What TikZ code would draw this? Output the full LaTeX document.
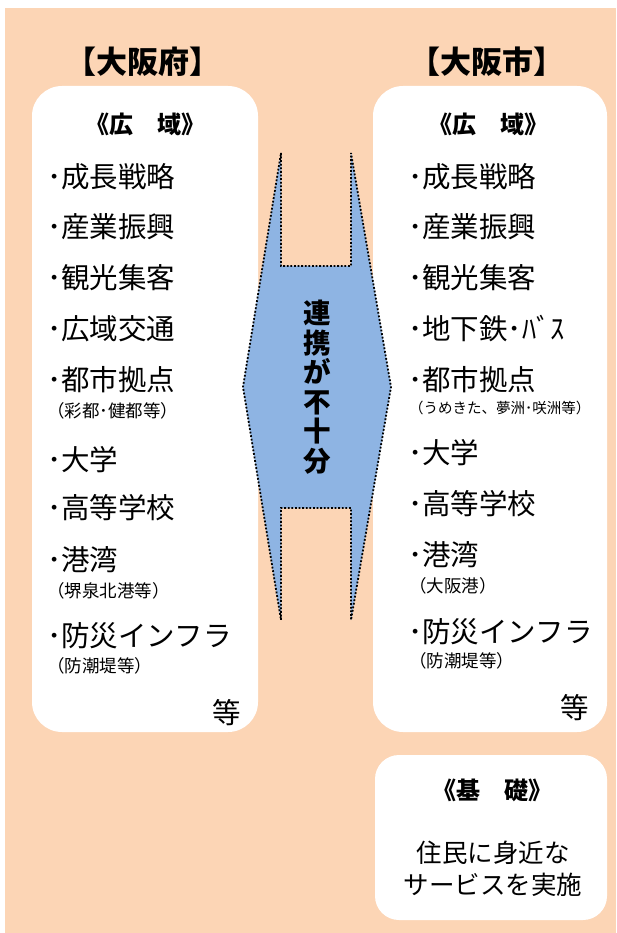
\documentclass[tikz,border=0pt]{standalone}
\usepackage{fontspec}
\setmainfont{Noto Sans CJK JP}
\usepackage{tikz}
\usetikzlibrary{positioning}
\definecolor{haikei}{HTML}{FCD5B5}
\definecolor{renkei}{HTML}{8EB4E3}
\tikzset{
	midashi/.style={font=\fontsize{31}{34}\selectfont\bfseries},
	kubun/.style={font=\fontsize{24}{26}\selectfont\bfseries},
	koumoku/.style={anchor=west, inner sep=0pt, font=\fontsize{28.5}{31}\selectfont},
	hosoku/.style={anchor=west, inner sep=0pt, font=\fontsize{17.5}{19}\selectfont},
	hosokusmall/.style={anchor=west, inner sep=0pt, font=\fontsize{14.5}{16}\selectfont},
}
\newcommand{\card}[5] % {x1}{y1}{x2}{y2}{radius}
{
	\fill [white, rounded corners=#5] (#1,#2) rectangle (#3,#4);
}
\newcommand{\gyou}[4] % {name}{x}{y}{text}
{
	\node [koumoku] (#1) at (#2,#3) {･#4};
}
\begin{document}
\begin{tikzpicture}[x=1pt,y=-1pt]
		\useasboundingbox (0,0) rectangle (616,933);
		\fill [haikei] (5,8) rectangle (616,933);
		
		% cards
		\card{32}{86}{258}{732}{30}
		\card{373}{86}{607}{732}{30}
		\card{375}{755}{607}{920}{24}
		
		% renkei
		\draw [renkei, fill=renkei] (281,153) -- (281,266) -- (351,266) -- (351,153) -- (391,387) -- (351,620) -- (351,508) -- (281,508) -- (281,620) -- (243,387) -- cycle;
		\draw [line width=1.8pt, dash pattern=on 1.8pt off 1.8pt] (281,153) -- (281,266) -- (351,266) -- (351,153) -- (391,387) -- (351,620) -- (351,508) -- (281,508) -- (281,620) -- (243,387) -- cycle;
		\node [align=center, font=\fontsize{27.5}{29.5}\selectfont\bfseries] (fujuubun) at (317,387) {連\\携\\が\\不\\十\\分};
		
		% fu
		\node [midashi] (fu) at (143,62) {【大阪府】};
		\node [kubun] (fukouiki) at (145,124) {《広　域》};
		\gyou{fu1}{47}{177}{成長戦略}
		\gyou{fu2}{47}{227}{産業振興}
		\gyou{fu3}{47}{278}{観光集客}
		\gyou{fu4}{47}{329}{広域交通}
		\gyou{fu5}{47}{380}{都市拠点}
		\node [hosoku] (fu5s) at (47,411) {（彩都･健都等）};
		\gyou{fu6}{47}{460}{大学}
		\gyou{fu7}{47}{508}{高等学校}
		\gyou{fu8}{47}{560}{港湾}
		\node [hosoku] (fu8s) at (47,591) {（堺泉北港等）};
		\gyou{fu9}{47}{636}{防災インフラ}
		\node [hosoku] (fu9s) at (47,666) {（防潮堤等）};
		\node [koumoku, anchor=center] (futou) at (227,713) {等};
		
		% shi
		\node [midashi] (shi) at (487,62) {【大阪市】};
		\node [kubun] (shikouiki) at (488,124) {《広　域》};
		\gyou{shi1}{408}{177}{成長戦略}
		\gyou{shi2}{408}{227}{産業振興}
		\gyou{shi3}{408}{278}{観光集客}
		\gyou{shi4}{408}{329}{地下鉄･ﾊﾞｽ}
		\gyou{shi5}{408}{380}{都市拠点}
		\node [hosokusmall] (shi5s) at (409,408) {（うめきた、夢洲･咲洲等）};
		\gyou{shi6}{408}{453}{大学}
		\gyou{shi7}{408}{504}{高等学校}
		\gyou{shi8}{408}{555}{港湾}
		\node [hosoku] (shi8s) at (409,586) {（大阪港）};
		\gyou{shi9}{408}{632}{防災インフラ}
		\node [hosoku] (shi9s) at (409,661) {（防潮堤等）};
		\node [koumoku, anchor=center] (shitou) at (575,708) {等};
		
		% kiso
		\node [kubun] (kiso) at (492,790) {《基　礎》};
		\node [align=center, font=\fontsize{25.5}{32}\selectfont] (kisotext) at (493,869) {住民に身近な\\サービスを実施};
		
\end{tikzpicture}
\end{document}
